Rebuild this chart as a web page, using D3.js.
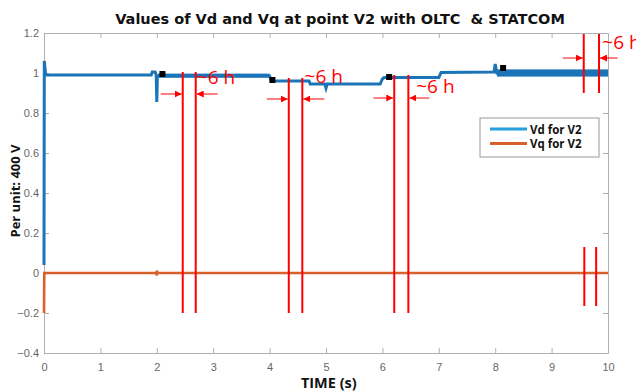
<!DOCTYPE html>
<html>
<head>
<meta charset="utf-8">
<script src="https://cdn.jsdelivr.net/npm/d3@7"></script>
<style>
  html, body { margin: 0; padding: 0; background: #fff; }
  svg { display: block; }
</style>
</head>
<body>
<div id="chart"></div>
<script>
// Vd for V2: [time (s), per unit]
const vdPoints = [
  [0, 0.04], [0.005, 1.06], [0.03, 0.99], [1.9, 0.99], [1.92, 1.005], [1.97, 1.005],
  [1.99, 0.99], [2.0, 0.855], [2.01, 0.985], [4.0, 0.985], [4.03, 0.96], [4.7, 0.96],
  [4.72, 0.945], [4.98, 0.945], [5.0, 0.925], [5.02, 0.945], [5.96, 0.945], [6.0, 0.97],
  [6.03, 0.977], [7.0, 0.977], [7.04, 1.003], [7.98, 1.005], [8.0, 1.045], [8.03, 1.0],
  [10, 1.0]
];

// oscillation envelope of Vd: [start, end, low, high]
const vdBands = [
  [2.02, 4.0, 0.977, 0.997],
  [8.03, 10.0, 0.982, 1.018]
];

// Vq for V2
const vqPoints = [
  [0, -0.2], [0.005, 0], [1.99, 0], [2.0, -0.012], [2.0, 0.012], [2.01, 0], [10, 0]
];

// black markers on Vd
const markers = [[2.1, 0.995], [4.05, 0.965], [6.12, 0.98], [8.14, 1.025]];

// "~6 h" annotations: line pair x, top/bottom of lines, arrow level, arrow starts, label spot
const gapPairs = [
  { x: [2.46, 2.69], y: [1.005, -0.2], arrowY: 0.895, from: [2.07, 3.08], label: [2.71, 0.945] },
  { x: [4.34, 4.58], y: [0.975, -0.2], arrowY: 0.87, from: [3.95, 4.97], label: [4.62, 0.95] },
  { x: [6.21, 6.46], y: [0.99, -0.2], arrowY: 0.875, from: [5.84, 6.83], label: [6.6, 0.9] },
  { x: [9.57, 9.84], y: [1.195, 0.9], arrowY: 1.075, from: [9.2, 10.17], label: [9.9, 1.12] }
];
const lowerPair = { x: [9.58, 9.79], y: [0.13, -0.165] };

const xTicks = [0, 1, 2, 3, 4, 5, 6, 7, 8, 9, 10];
const yTicks = [-0.4, -0.2, 0, 0.2, 0.4, 0.6, 0.8, 1, 1.2];
const legendLabels = ["Vd for V2", "Vq for V2"];

const width = 636;
const height = 392;
const margin = { top: 33, right: 28, bottom: 39, left: 44 };

const blue = "#1c74b8";
const orange = "#d9602a";
const red = "#ff0000";
const axisGray = "#b0b0b0";

const svg = d3.select("#chart").append("svg")
  .attr("width", width)
  .attr("height", height);

const x = d3.scaleLinear().domain([0, 10]).range([margin.left, width - margin.right]);
const y = d3.scaleLinear().domain([-0.4, 1.2]).range([height - margin.bottom, margin.top]);

// title
svg.append("text")
  .attr("x", 340)
  .attr("y", 24)
  .attr("text-anchor", "middle")
  .attr("font-family", "DejaVu Sans, sans-serif")
  .attr("font-weight", "bold")
  .attr("font-size", 14.5)
  .attr("fill", "#111")
  .style("white-space", "pre")
  .text("Values of Vd and Vq at point V2 with OLTC  & STATCOM");

// axes (MATLAB style box, inward ticks)
const tickFont = g => g.selectAll("text")
  .attr("font-family", "Liberation Sans, Arial, sans-serif")
  .attr("font-size", 11)
  .attr("fill", "#666");

const axisStyle = g => {
  g.select(".domain").attr("stroke", axisGray);
  g.selectAll(".tick line").attr("stroke", axisGray);
};

svg.append("g")
  .attr("transform", `translate(0,${y(-0.4)})`)
  .call(d3.axisBottom(x).tickValues(xTicks).tickSizeInner(-5).tickSizeOuter(0).tickPadding(10).tickFormat(d3.format("d")))
  .call(axisStyle).call(tickFont);

svg.append("g")
  .attr("transform", `translate(${x(0)},0)`)
  .call(d3.axisLeft(y).tickValues(yTicks).tickSizeInner(-5).tickSizeOuter(0).tickPadding(5).tickFormat(d => d3.format("~g")(d)))
  .call(axisStyle).call(tickFont);

svg.append("g")
  .attr("transform", `translate(0,${y(1.2)})`)
  .call(d3.axisTop(x).tickValues(xTicks).tickSizeInner(-5).tickSizeOuter(0).tickFormat(""))
  .call(axisStyle);

svg.append("g")
  .attr("transform", `translate(${x(10)},0)`)
  .call(d3.axisRight(y).tickValues(yTicks).tickSizeInner(-5).tickSizeOuter(0).tickFormat(""))
  .call(axisStyle);

// axis labels
svg.append("text")
  .attr("x", x(5.05))
  .attr("y", 388)
  .attr("text-anchor", "middle")
  .attr("font-family", "Open Sans, sans-serif")
  .attr("font-weight", "bold")
  .attr("font-size", 14.5)
  .attr("fill", "#111")
  .text("TIME (s)");

svg.append("text")
  .attr("transform", `translate(20,${y(0.41)}) rotate(-90)`)
  .attr("text-anchor", "middle")
  .attr("font-family", "Open Sans, sans-serif")
  .attr("font-weight", "bold")
  .attr("font-size", 13)
  .attr("fill", "#111")
  .text("Per unit: 400 V");

// series
const line = d3.line().x(d => x(d[0])).y(d => y(d[1]));

svg.append("path")
  .datum(vqPoints)
  .attr("fill", "none")
  .attr("stroke", orange)
  .attr("stroke-width", 2.6)
  .attr("d", line);

svg.append("path")
  .datum(vdPoints)
  .attr("fill", "none")
  .attr("stroke", blue)
  .attr("stroke-width", 3)
  .attr("d", line);

svg.append("g")
  .selectAll("rect")
  .data(vdBands)
  .join("rect")
  .attr("x", d => x(d[0]))
  .attr("width", d => x(d[1]) - x(d[0]))
  .attr("y", d => y(d[3]))
  .attr("height", d => y(d[2]) - y(d[3]))
  .attr("fill", blue);

svg.append("g")
  .selectAll("rect")
  .data(markers)
  .join("rect")
  .attr("x", d => x(d[0]) - 3)
  .attr("y", d => y(d[1]) - 3)
  .attr("width", 6)
  .attr("height", 6)
  .attr("fill", "#000");

// red annotations
svg.append("defs").append("marker")
  .attr("id", "head")
  .attr("viewBox", "0 0 10 10")
  .attr("refX", 10)
  .attr("refY", 5)
  .attr("markerWidth", 7)
  .attr("markerHeight", 7)
  .attr("markerUnits", "userSpaceOnUse")
  .attr("orient", "auto")
  .append("path")
  .attr("d", "M0,0L10,5L0,10Z")
  .attr("fill", red);

const ann = svg.append("g");

gapPairs.forEach(p => {
  p.x.forEach(t => {
    ann.append("line")
      .attr("x1", x(t)).attr("x2", x(t))
      .attr("y1", y(p.y[0])).attr("y2", y(p.y[1]))
      .attr("stroke", red).attr("stroke-width", 2);
  });
  ann.append("line")
    .attr("x1", x(p.from[0])).attr("x2", x(p.x[0]) - 1)
    .attr("y1", y(p.arrowY)).attr("y2", y(p.arrowY))
    .attr("stroke", red).attr("stroke-width", 1)
    .attr("marker-end", "url(#head)");
  ann.append("line")
    .attr("x1", x(p.from[1])).attr("x2", x(p.x[1]) + 1)
    .attr("y1", y(p.arrowY)).attr("y2", y(p.arrowY))
    .attr("stroke", red).attr("stroke-width", 1)
    .attr("marker-end", "url(#head)");
  ann.append("text")
    .attr("x", x(p.label[0]))
    .attr("y", y(p.label[1]))
    .attr("font-family", "Open Sans, sans-serif")
    .attr("font-size", 19)
    .attr("fill", red)
    .text("~6 h");
});

lowerPair.x.forEach(t => {
  ann.append("line")
    .attr("x1", x(t)).attr("x2", x(t))
    .attr("y1", y(lowerPair.y[0])).attr("y2", y(lowerPair.y[1]))
    .attr("stroke", red).attr("stroke-width", 2);
});

// legend
const legend = svg.append("g").attr("transform", "translate(480,118)");
legend.append("rect")
  .attr("width", 119)
  .attr("height", 39)
  .attr("fill", "#fff")
  .attr("stroke", "#999")
  .attr("stroke-width", 1);

legend.selectAll("g")
  .data(legendLabels)
  .join("g")
  .attr("transform", (d, i) => `translate(0,${11 + i * 14.5})`)
  .each(function (d, i) {
    const g = d3.select(this);
    g.append("line")
      .attr("x1", 10).attr("x2", 47)
      .attr("stroke", i === 0 ? "#27a0dc" : orange)
      .attr("stroke-width", 3);
    g.append("text")
      .attr("x", 50)
      .attr("y", 4.5)
      .attr("font-family", "Open Sans, sans-serif")
      .attr("font-weight", "bold")
      .attr("font-size", 11.5)
      .attr("fill", "#111")
      .text(d);
  });
</script>
</body>
</html>
